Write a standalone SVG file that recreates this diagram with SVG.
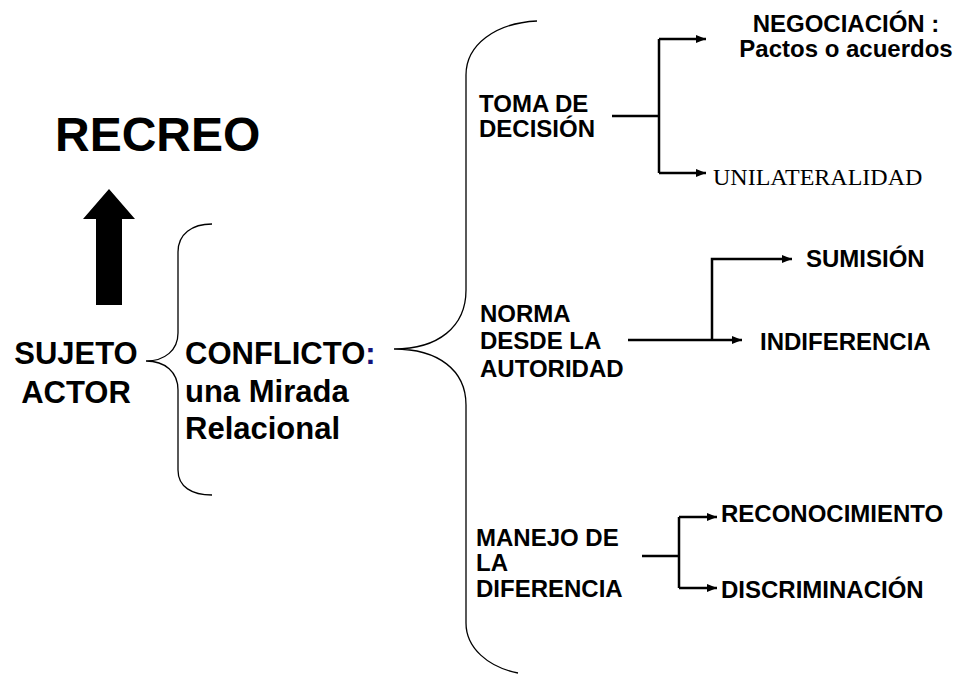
<svg xmlns="http://www.w3.org/2000/svg" width="954" height="675" viewBox="0 0 954 675">
<style>
.t{font-family:"Liberation Sans",Arial,sans-serif;font-weight:bold;fill:#000}
.m{font-size:24px}
.l{font-size:31px}
.s{font-family:"Liberation Serif","Times New Roman",serif;font-size:24px;fill:#000}
.brace{fill:none;stroke:#000;stroke-width:1.3}
.c{fill:none;stroke:#000;stroke-width:2.5}
</style>
<defs>
<marker id="ah" markerUnits="userSpaceOnUse" markerWidth="10" markerHeight="8" refX="10" refY="4" orient="auto">
<path d="M0,0 L10,4 L0,8 z" fill="#000"/>
</marker>
</defs>
<rect width="954" height="675" fill="#fff"/>
<g id="recreo"><text class="t" x="55" y="151" font-size="48">RECREO</text></g>
<g id="big-arrow"><polygon points="109,189 135,219 122,219 122,305 96,305 96,219 83,219" fill="#000"/></g>
<g id="sujeto"><text class="t l" text-anchor="middle"><tspan x="76" y="364">SUJETO</tspan><tspan x="76" y="403">ACTOR</tspan></text></g>
<g id="conflicto"><text class="t l"><tspan x="185" y="364">CONFLICTO<tspan fill="#14147a">:</tspan></tspan><tspan x="185" y="402">una Mirada</tspan><tspan x="185" y="439">Relacional</tspan></text></g>
<g id="braces">
<path class="brace" d="M212,224 C192,224 178,234 178,252 V333 C178,350 165,361 146,361 C165,361 178,372 178,390 V470 C178,487 192,495 212,495"/>
<path class="brace" d="M537,21 C495,23 466,45 466,75 V290 C466,327 438,349 394,349 C438,349 466,370 466,405 V623 C466,648 488,667 518,673"/>
</g>
<g id="toma"><text class="t m"><tspan x="479" y="112">TOMA DE</tspan><tspan x="479" y="137">DECISIÓN</tspan></text></g>
<g id="negociacion"><text class="t m" text-anchor="middle"><tspan x="846" y="32">NEGOCIACIÓN :</tspan><tspan x="846" y="57">Pactos o acuerdos</tspan></text></g>
<g id="unilateralidad"><text class="s" x="713" y="185">UNILATERALIDAD</text></g>
<g id="norma"><text class="t m"><tspan x="480" y="322">NORMA</tspan><tspan x="480" y="349">DESDE LA</tspan><tspan x="480" y="377">AUTORIDAD</tspan></text></g>
<g id="sumision"><text class="t m" x="806" y="267">SUMISIÓN</text></g>
<g id="indiferencia"><text class="t m" x="760" y="350">INDIFERENCIA</text></g>
<g id="manejo"><text class="t m"><tspan x="476" y="546">MANEJO DE</tspan><tspan x="476" y="571">LA</tspan><tspan x="476" y="597">DIFERENCIA</tspan></text></g>
<g id="reconocimiento"><text class="t m" x="721" y="522">RECONOCIMIENTO</text></g>
<g id="discriminacion"><text class="t m" x="721" y="598">DISCRIMINACIÓN</text></g>
<g id="connectors">
<path class="c" d="M612,116 H659 M659,39 V173"/>
<path class="c" d="M659,39 H706" marker-end="url(#ah)"/>
<path class="c" d="M659,173 H706" marker-end="url(#ah)"/>
<path class="c" d="M628,340 H742" marker-end="url(#ah)"/>
<path class="c" d="M712,340 V259 H792" marker-end="url(#ah)"/>
<path class="c" d="M642,556 H679 M679,517 V588"/>
<path class="c" d="M679,517 H717" marker-end="url(#ah)"/>
<path class="c" d="M679,588 H717" marker-end="url(#ah)"/>
</g>
</svg>
